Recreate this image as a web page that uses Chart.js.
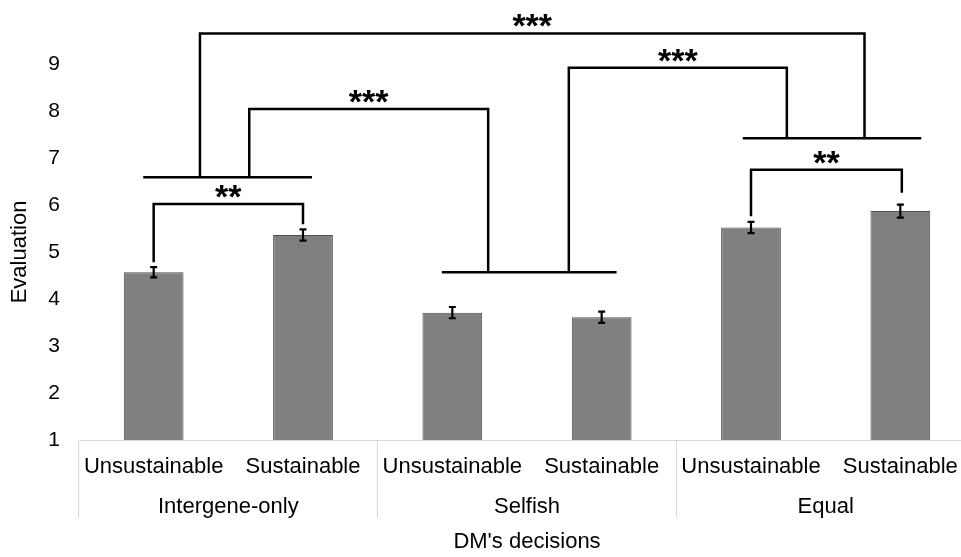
<!DOCTYPE html>
<html>
<head>
<meta charset="utf-8">
<script src="https://cdn.jsdelivr.net/npm/chart.js@4"></script>
<style>
  html, body { margin: 0; padding: 0; background: #fff; overflow: hidden; }
  canvas { display: block; }
</style>
</head>
<body>
<canvas id="chart" width="980" height="557"></canvas>
<script>
// bars
var categories = ['Unsustainable', 'Sustainable', 'Unsustainable', 'Sustainable', 'Unsustainable', 'Sustainable'];
var groups = ['Intergene-only', 'Selfish', 'Equal'];
var means = [4.57, 5.36, 3.71, 3.61, 5.52, 5.87];
var errors = [0.11, 0.12, 0.12, 0.12, 0.12, 0.14];

// significance brackets (x in category index, y in evaluation units)
var bracketX1 = [0, 0.31, 0.64, 2.78, 4.0];
var bracketX2 = [1, 4.76, 2.24, 4.24, 5.01];
var bracketTop = [6.02, 9.65, 8.04, 8.92, 6.75];
var bracketFoot1 = [4.78, 6.59, 6.59, 4.57, 5.76];
var bracketFoot2 = [5.59, 7.42, 4.57, 7.42, 6.26];
var bracketText = ['**', '***', '***', '***', '**'];

// horizontal lines joining the two bars of a group
var joinFrom = [-0.07, 1.93, 3.945];
var joinTo = [1.06, 3.10, 5.14];
var joinAt = [6.59, 4.57, 7.42];

var font = 'Liberation Sans, Arial, sans-serif';

var annotations = {
    id: 'annotations',
    afterDatasetsDraw: function(chart) {
        var ctx = chart.ctx;
        var x = chart.scales.x;
        var y = chart.scales.y;
        ctx.save();
        ctx.strokeStyle = '#000';

        // error bars
        ctx.lineWidth = 2.2;
        for (var i = 0; i < means.length; i++) {
            var px = x.getPixelForValue(i);
            var lo = y.getPixelForValue(means[i] - errors[i]);
            var hi = y.getPixelForValue(means[i] + errors[i]);
            ctx.beginPath();
            ctx.moveTo(px, lo); ctx.lineTo(px, hi);
            ctx.moveTo(px - 3.5, lo); ctx.lineTo(px + 3.5, lo);
            ctx.moveTo(px - 3.5, hi); ctx.lineTo(px + 3.5, hi);
            ctx.stroke();
        }

        // group join lines
        ctx.lineWidth = 2.5;
        for (var j = 0; j < joinAt.length; j++) {
            var yy = y.getPixelForValue(joinAt[j]);
            ctx.beginPath();
            ctx.moveTo(x.getPixelForValue(joinFrom[j]), yy);
            ctx.lineTo(x.getPixelForValue(joinTo[j]), yy);
            ctx.stroke();
        }

        // brackets
        ctx.font = 'bold 34px ' + font;
        ctx.fillStyle = '#000';
        ctx.textAlign = 'center';
        ctx.textBaseline = 'alphabetic';
        for (var k = 0; k < bracketText.length; k++) {
            var x1 = x.getPixelForValue(bracketX1[k]);
            var x2 = x.getPixelForValue(bracketX2[k]);
            var top = y.getPixelForValue(bracketTop[k]);
            ctx.beginPath();
            ctx.moveTo(x1, y.getPixelForValue(bracketFoot1[k]));
            ctx.lineTo(x1, top);
            ctx.lineTo(x2, top);
            ctx.lineTo(x2, y.getPixelForValue(bracketFoot2[k]));
            ctx.stroke();
            ctx.fillText(bracketText[k], (x1 + x2) / 2, top + 4);
        }
        ctx.restore();
    }
};

document.addEventListener('DOMContentLoaded', function() {
    var ctx = document.getElementById('chart').getContext('2d');
    new Chart(ctx, {
        type: 'bar',
        data: {
            labels: categories,
            datasets: [{
                data: means,
                backgroundColor: '#808080',
                borderColor: '#4d4d4d',
                borderWidth: 1,
                borderSkipped: false,
                barPercentage: 0.4,
                categoryPercentage: 1
            }]
        },
        options: {
            responsive: false,
            animation: false,
            layout: {
                padding: { top: 64, right: 5, left: 0, bottom: 0 }
            },
            scales: {
                x: {
                    offset: true,
                    grid: {
                        offset: true,
                        drawOnChartArea: false,
                        tickLength: 78,
                        color: function(c) {
                            return (c.index === undefined || c.index % 2 === 0) ? '#d9d9d9' : 'rgba(0,0,0,0)';
                        }
                    },
                    border: { color: '#d9d9d9' },
                    ticks: {
                        padding: -64,
                        color: '#000',
                        maxRotation: 0,
                        autoSkip: false,
                        font: { family: font, size: 22 }
                    },
                    afterFit: function(scale) {
                        scale.height = 39;
                    }
                },
                x2: {
                    type: 'category',
                    labels: groups,
                    position: 'bottom',
                    offset: true,
                    grid: { display: false, drawTicks: false },
                    border: { display: false },
                    ticks: {
                        padding: 15,
                        color: '#000',
                        font: { family: font, size: 22 }
                    },
                    title: {
                        display: true,
                        text: "DM's decisions",
                        color: '#000',
                        padding: { top: 3, bottom: 2 },
                        font: { family: font, size: 22 }
                    },
                    afterFit: function(scale) {
                        scale.height = 78;
                    }
                },
                y: {
                    min: 1,
                    max: 9,
                    grid: { display: false, drawTicks: false },
                    border: { display: false },
                    ticks: {
                        stepSize: 1,
                        padding: 19,
                        color: '#000',
                        font: { family: font, size: 21 }
                    },
                    title: {
                        display: true,
                        text: 'Evaluation',
                        color: '#000',
                        padding: { top: 7, bottom: 0 },
                        font: { family: font, size: 22 }
                    },
                    afterFit: function(scale) {
                        scale.width = 79;
                    }
                }
            },
            plugins: {
                legend: { display: false },
                tooltip: { enabled: false }
            }
        },
        plugins: [annotations]
    });
});
</script>
</body>
</html>
